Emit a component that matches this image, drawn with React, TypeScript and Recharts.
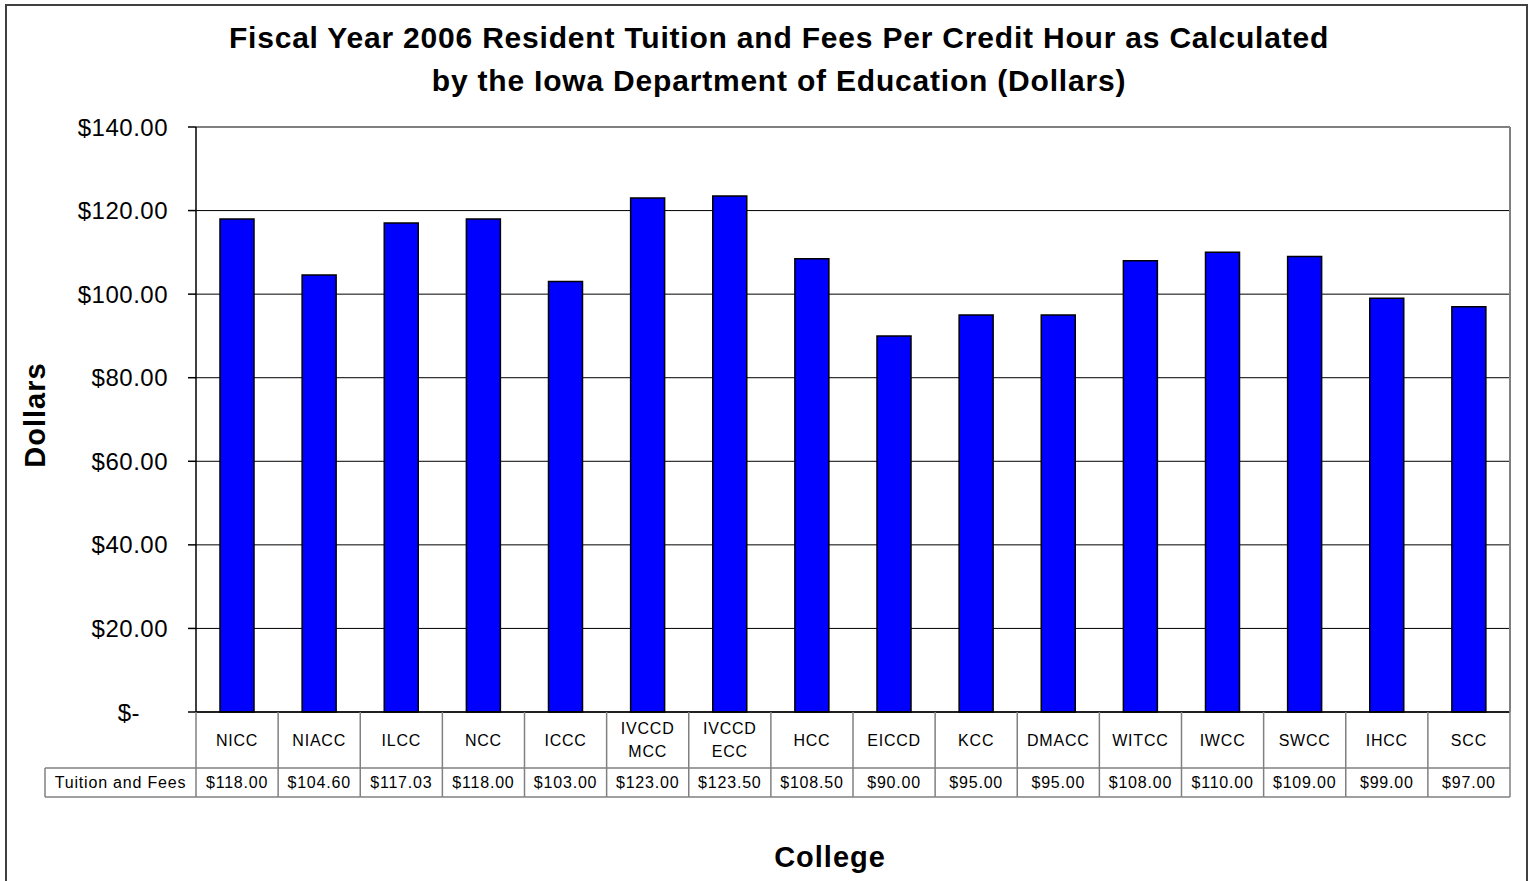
import { BarChart, Bar, XAxis, YAxis, CartesianGrid, ReferenceLine } from "recharts";

const colleges = [
  "NICC",
  "NIACC",
  "ILCC",
  "NCC",
  "ICCC",
  "IVCCD\nMCC",
  "IVCCD\nECC",
  "HCC",
  "EICCD",
  "KCC",
  "DMACC",
  "WITCC",
  "IWCC",
  "SWCC",
  "IHCC",
  "SCC",
];

const tuition = [118, 104.6, 117.03, 118, 103, 123, 123.5, 108.5, 90, 95, 95, 108, 110, 109, 99, 97];

const yTicks = [0, 20, 40, 60, 80, 100, 120, 140];

const rowLabel = "Tuition and Fees";
const titleLines = [
  "Fiscal Year 2006 Resident Tuition and Fees Per Credit Hour as Calculated",
  "by the Iowa Department of Education (Dollars)",
];
const yTitle = "Dollars";
const xTitle = "College";

const data = colleges.map((name, i) => ({ name, value: tuition[i] }));

// layout
const W = 1533;
const H = 881;
const PLOT_LEFT = 196;
const PLOT_RIGHT = 1510;
const PLOT_TOP = 127;
const PLOT_BOTTOM = 712;
const ROW1 = 768;
const ROW2 = 797;
const LABEL_LEFT = 45;
const BAND = (PLOT_RIGHT - PLOT_LEFT) / colleges.length;
const Y_AXIS_W = 110;
const GRAY = "#808080";
const FONT = "Arial, 'Liberation Sans', sans-serif";

const money = (v: number) => "$" + v.toFixed(2);

const YTick = (props: any) => {
  const { x, y, payload } = props;
  const v = payload.value;
  return (
    <text
      x={v === 0 ? x - 28 : x}
      y={y}
      dy="0.355em"
      textAnchor="end"
      fontSize={24}
      letterSpacing={0.5}
      fontFamily={FONT}
      fill="#000"
    >
      {v === 0 ? "$-" : money(v)}
    </text>
  );
};

const TableTick = (props: any) => {
  const { x, index, payload } = props;
  const lines = String(payload.value).split("\n");
  const left = x - BAND / 2;
  const right = x + BAND / 2;
  const mid1 = (PLOT_BOTTOM + ROW1) / 2;
  const mid2 = (ROW1 + ROW2) / 2;
  const txt = { fontSize: 16, fontFamily: FONT, fill: "#000", letterSpacing: 0.8, textAnchor: "middle" as const };
  return (
    <g>
      {index === 0 && (
        <g>
          <line x1={left} y1={PLOT_BOTTOM} x2={left} y2={ROW2} stroke={GRAY} strokeWidth={1.5} />
          <line x1={LABEL_LEFT} y1={ROW1} x2={left} y2={ROW1} stroke={GRAY} strokeWidth={1.5} />
          <line x1={LABEL_LEFT} y1={ROW2} x2={left} y2={ROW2} stroke={GRAY} strokeWidth={1.5} />
          <line x1={LABEL_LEFT} y1={ROW1} x2={LABEL_LEFT} y2={ROW2} stroke={GRAY} strokeWidth={1.5} />
          <text x={(LABEL_LEFT + left) / 2} y={mid2} dy="0.355em" {...txt}>
            {rowLabel}
          </text>
        </g>
      )}
      {index === colleges.length - 1 && (
        <line x1={right} y1={PLOT_TOP} x2={right} y2={PLOT_BOTTOM} stroke={GRAY} strokeWidth={2} />
      )}
      <line x1={right} y1={PLOT_BOTTOM} x2={right} y2={ROW2} stroke={GRAY} strokeWidth={1.5} />
      <line x1={left} y1={ROW1} x2={right} y2={ROW1} stroke={GRAY} strokeWidth={1.5} />
      <line x1={left} y1={ROW2} x2={right} y2={ROW2} stroke={GRAY} strokeWidth={1.5} />
      {lines.map((l, i) => (
        <text key={i} x={x} y={mid1 + (i - (lines.length - 1) / 2) * 23} dy="0.355em" {...txt}>
          {l}
        </text>
      ))}
      <text x={x} y={mid2} dy="0.355em" {...txt}>
        {money(tuition[index])}
      </text>
    </g>
  );
};

export default function App() {
  return (
    <div
      style={{
        position: "absolute",
        left: 0,
        top: 0,
        width: W,
        height: H,
        overflow: "hidden",
        background: "#fff",
        fontFamily: FONT,
      }}
    >
      <div
        style={{
          position: "absolute",
          left: 5,
          top: 4,
          width: 1523,
          height: 900,
          border: "2px solid #404040",
          boxSizing: "border-box",
        }}
      />
      {titleLines.map((t, i) => (
        <div
          key={i}
          style={{
            position: "absolute",
            left: 0,
            width: 1558,
            top: 20 + i * 43,
            textAlign: "center",
            fontSize: 30,
            letterSpacing: 0.8,
            fontWeight: "bold",
            lineHeight: "36px",
            whiteSpace: "nowrap",
          }}
        >
          {t}
        </div>
      ))}
      <div
        style={{
          position: "absolute",
          left: 35 - 100,
          top: 415 - 18,
          width: 200,
          textAlign: "center",
          fontSize: 29,
          letterSpacing: 1,
          fontWeight: "bold",
          lineHeight: "36px",
          transform: "rotate(-90deg)",
        }}
      >
        {yTitle}
      </div>
      <div
        style={{
          position: "absolute",
          left: 730,
          top: 839,
          width: 200,
          textAlign: "center",
          fontSize: 29,
          letterSpacing: 1,
          fontWeight: "bold",
          lineHeight: "36px",
        }}
      >
        {xTitle}
      </div>
      <div style={{ position: "absolute", left: 0, top: 0 }}>
        <BarChart
          width={W}
          height={H}
          data={data}
          margin={{ top: PLOT_TOP, right: W - PLOT_RIGHT, left: PLOT_LEFT - Y_AXIS_W, bottom: 0 }}
        >
          <CartesianGrid vertical={false} stroke="#000" strokeWidth={1} />
          <ReferenceLine y={140} stroke={GRAY} strokeWidth={2} />
          <XAxis
            dataKey="name"
            height={H - PLOT_BOTTOM}
            interval={0}
            tickLine={false}
            axisLine={{ stroke: "#000", strokeWidth: 1.5 }}
            tick={<TableTick />}
          />
          <YAxis
            width={Y_AXIS_W}
            domain={[0, 140]}
            ticks={yTicks}
            interval={0}
            tickSize={8}
            tickMargin={20}
            tickLine={{ stroke: "#000", strokeWidth: 1.5 }}
            axisLine={{ stroke: "#000", strokeWidth: 1.5 }}
            tick={<YTick />}
          />
          <Bar
            dataKey="value"
            fill="#0000FF"
            stroke="#000"
            strokeWidth={1.5}
            barSize={34}
            isAnimationActive={false}
          />
        </BarChart>
      </div>
    </div>
  );
}
